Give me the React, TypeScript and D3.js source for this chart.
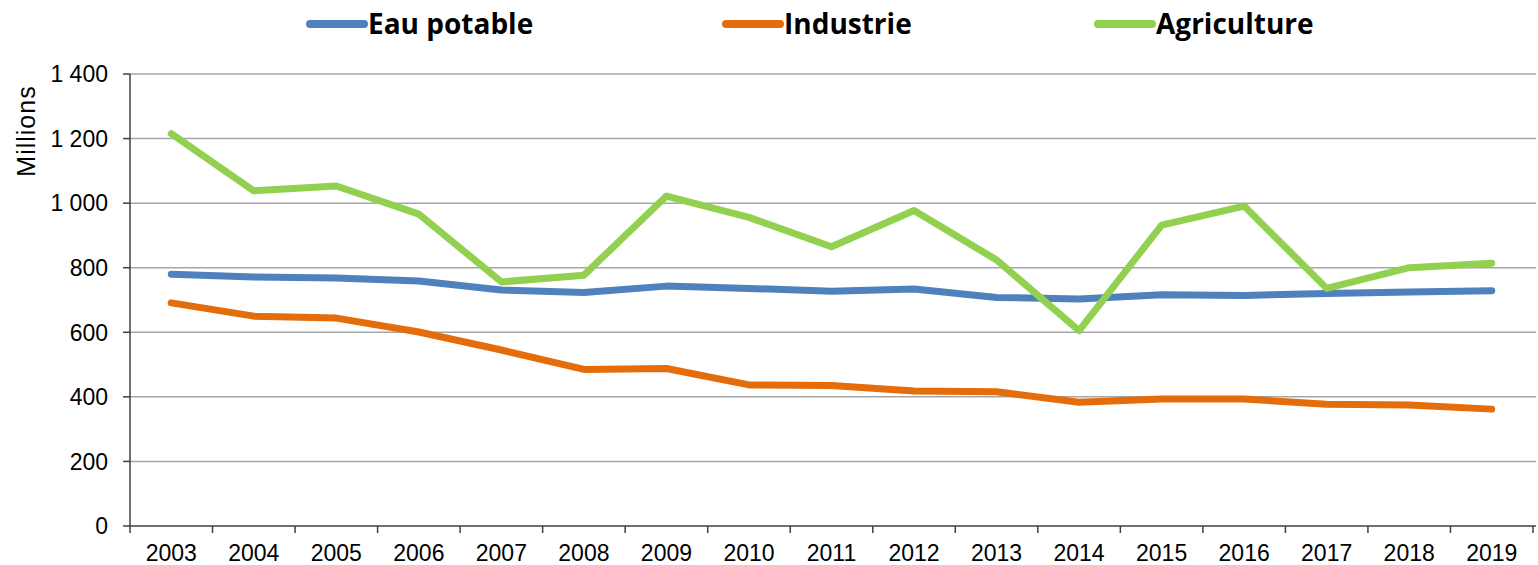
import React from 'react';
import * as d3 from 'd3';

const years = ['2003', '2004', '2005', '2006', '2007', '2008', '2009', '2010', '2011', '2012', '2013', '2014', '2015', '2016', '2017', '2018', '2019'];
const eauPotable = [780, 771, 768, 759, 731, 723, 743, 736, 727, 734, 708, 703, 716, 714, 720, 725, 729];
const industrie = [691, 650, 644, 601, 545, 485, 488, 437, 435, 418, 416, 383, 393, 393, 377, 375, 362];
const agriculture = [1215, 1038, 1053, 966, 756, 777, 1022, 956, 865, 977, 824, 605, 932, 991, 736, 800, 814];
const yTicks = [0, 200, 400, 600, 800, 1000, 1200, 1400];

const series = [
  { name: 'Eau potable', values: eauPotable, color: '#4F81BD', legendX: 310 },
  { name: 'Industrie', values: industrie, color: '#E46C0A', legendX: 726 },
  { name: 'Agriculture', values: agriculture, color: '#92D050', legendX: 1098 },
];

const W = 1538;
const H = 565;
const left = 130;
const right = 1533;
const top = 74;
const bottom = 526;
const axisFont = "'Liberation Sans', Arial, sans-serif";

const fmt = (v: number) => {
  const s = String(v);
  return s.length > 3 ? s.slice(0, s.length - 3) + ' ' + s.slice(-3) : s;
};

export default function App() {
  const x = d3.scaleBand<string>().domain(years).range([left, right]);
  const y = d3.scaleLinear().domain([0, 1400]).range([bottom, top]);
  const line = d3.line<number>()
    .x((_, i) => (x(years[i]) ?? 0) + x.bandwidth() / 2)
    .y(d => y(d));

  const boundaries = years.map(yr => x(yr) ?? 0).concat([right]);

  return (
    <svg width={W} height={H} style={{ position: 'absolute', left: 0, top: 0 }}>
      {/* gridlines */}
      {yTicks.filter(t => t > 0).map(t => (
        <line key={t} x1={left} x2={1536} y1={y(t)} y2={y(t)} stroke="#a6a6a6" strokeWidth={1.5} />
      ))}

      {/* y axis */}
      <line x1={left} x2={left} y1={top} y2={bottom} stroke="#404040" strokeWidth={1.5} />
      {yTicks.map(t => (
        <g key={t}>
          <line x1={left - 7} x2={left} y1={y(t)} y2={y(t)} stroke="#404040" strokeWidth={1.5} />
          <text x={left - 22} y={y(t)} dy="0.36em" textAnchor="end"
            fontFamily={axisFont} fontSize={23} fill="#000">{fmt(t)}</text>
        </g>
      ))}
      <text transform="translate(35, 131) rotate(-90)" textAnchor="middle"
        fontFamily={axisFont} fontSize={25} letterSpacing={1} fill="#000">Millions</text>

      {/* x axis */}
      <line x1={left} x2={1536} y1={bottom} y2={bottom} stroke="#404040" strokeWidth={1.5} />
      {boundaries.map((bx, i) => (
        <line key={i} x1={bx} x2={bx} y1={bottom} y2={bottom + 7} stroke="#404040" strokeWidth={1.5} />
      ))}
      {years.map(yr => (
        <text key={yr} x={(x(yr) ?? 0) + x.bandwidth() / 2} y={561} textAnchor="middle"
          fontFamily={axisFont} fontSize={23} fill="#000">{yr}</text>
      ))}

      {/* lines */}
      {series.map(s => (
        <path key={s.name} d={line(s.values) ?? ''} fill="none" stroke={s.color}
          strokeWidth={7} strokeLinejoin="round" strokeLinecap="round" />
      ))}

      {/* legend */}
      {series.map(s => (
        <g key={s.name}>
          <line x1={s.legendX} x2={s.legendX + 54} y1={24} y2={24} stroke={s.color} strokeWidth={8} strokeLinecap="round" />
          <text x={s.legendX + 58} y={24} dy="0.35em" fontFamily="'Open Sans', Lato, sans-serif"
            fontWeight={700} fontSize={28} fill="#000">{s.name}</text>
        </g>
      ))}
    </svg>
  );
}
